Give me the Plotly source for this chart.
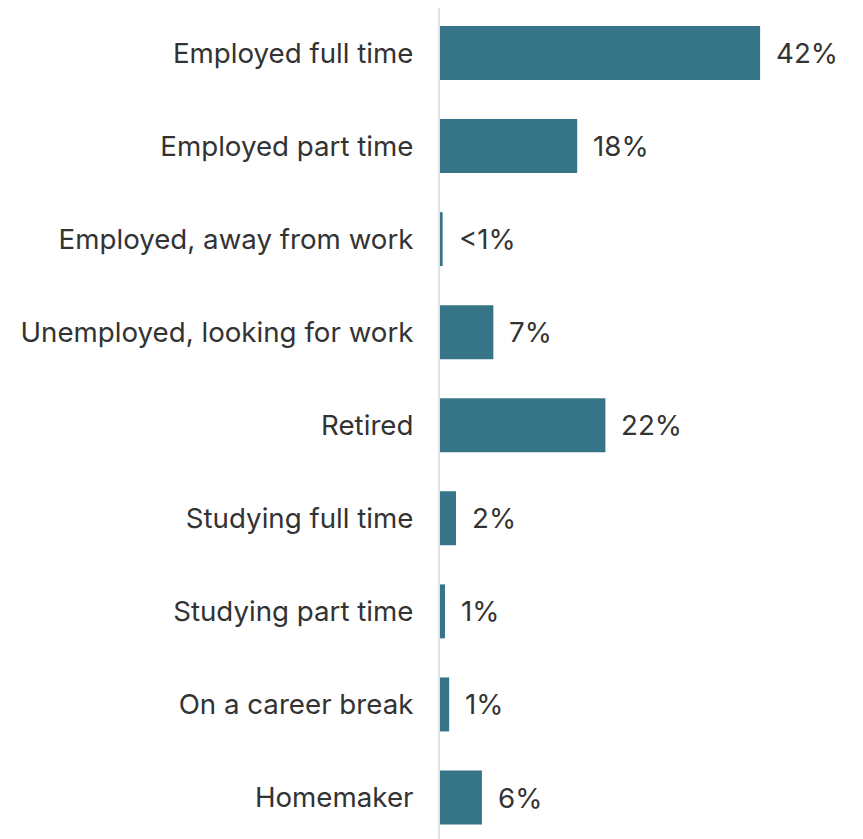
import plotly.graph_objects as go

categories = [
    "Employed full time",
    "Employed part time",
    "Employed, away from work",
    "Unemployed, looking for work",
    "Retired",
    "Studying full time",
    "Studying part time",
    "On a career break",
    "Homemaker",
]
values = [42, 18, 0.35, 7, 21.7, 2.1, 0.66, 1.2, 5.5]
labels = ["42%", "18%", "<1%", "7%", "22%", "2%", "1%", "1%", "6%"]

BAR = "#367587"
TXT = "#333333"
FONT = "Inter, 'Noto Sans', sans-serif"
FS = 27.7

fig = go.Figure(go.Bar(
    y=categories, x=values, orientation="h",
    marker=dict(color=BAR, line=dict(width=0)),
    width=0.58, hoverinfo="skip",
))

for c, v, t in zip(categories, values, labels):
    fig.add_annotation(x=v, y=c, text=t, showarrow=False, xanchor="left",
                       xshift=14, font=dict(family=FONT, size=FS, color=TXT))

fig.update_layout(
    width=855, height=831,
    margin=dict(l=432, r=0, t=0, b=0, autoexpand=False),
    paper_bgcolor="white", plot_bgcolor="white",
    showlegend=False,
    font=dict(family=FONT, size=FS, color=TXT),
    xaxis=dict(range=[0, 55.5], visible=False, fixedrange=True, automargin=False),
    yaxis=dict(
        categoryorder="array", categoryarray=categories,
        range=[8.446, -0.484], automargin=False,
        showline=True, linecolor="#e3e3e3", linewidth=2,
        showgrid=False, zeroline=False, ticks="", ticklabelstandoff=19,
        tickfont=dict(family=FONT, size=FS, color=TXT),
    ),
)

fig.write_html("out.html")
